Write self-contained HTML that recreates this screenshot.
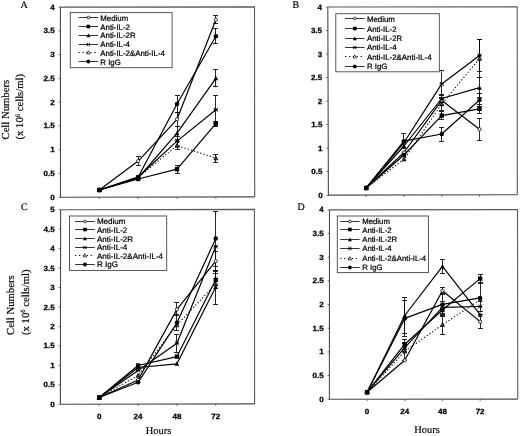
<!DOCTYPE html>
<html><head><meta charset="utf-8"><title>Figure</title>
<style>
html,body{margin:0;padding:0;background:#fff;}
svg{display:block}
text{text-rendering:geometricPrecision}
.tk{font-family:"Liberation Sans",Arial,sans-serif;font-weight:bold;font-size:7.5px;fill:#000;stroke:#000;stroke-width:0.25px}
.lg{font-family:"Liberation Sans",Arial,sans-serif;fill:#000;stroke:#000;stroke-width:0.22px}
.ser{font-family:"Liberation Serif","Times New Roman",serif;fill:#000;stroke:#000;stroke-width:0.18px}
</style></head>
<body>
<svg width="520" height="436" viewBox="0 0 520 436">
<rect width="520" height="436" fill="#fff"/>
<path d="M60.4 7.1L254.5 6.9L254.7 196.9" fill="none" stroke="#5a5a5a" stroke-width="1.1"/>
<path d="M60.4 7.1L60.5 197.2L254.7 196.9" fill="none" stroke="#4a4a4a" stroke-width="1.1"/>
<path d="M58.7 197.2H60.5" stroke="#4a4a4a" stroke-width="0.8"/>
<text transform="translate(54.7 199.75) scale(1.07 1)" text-anchor="end" class="tk">0</text>
<path d="M58.69 173.44H60.49" stroke="#4a4a4a" stroke-width="0.8"/>
<text transform="translate(54.69 175.99) scale(1.07 1)" text-anchor="end" class="tk">0.5</text>
<path d="M58.68 149.67H60.48" stroke="#4a4a4a" stroke-width="0.8"/>
<text transform="translate(54.68 152.22) scale(1.07 1)" text-anchor="end" class="tk">1</text>
<path d="M58.66 125.91H60.46" stroke="#4a4a4a" stroke-width="0.8"/>
<text transform="translate(54.66 128.46) scale(1.07 1)" text-anchor="end" class="tk">1.5</text>
<path d="M58.65 102.15H60.45" stroke="#4a4a4a" stroke-width="0.8"/>
<text transform="translate(54.65 104.7) scale(1.07 1)" text-anchor="end" class="tk">2</text>
<path d="M58.64 78.39H60.44" stroke="#4a4a4a" stroke-width="0.8"/>
<text transform="translate(54.64 80.94) scale(1.07 1)" text-anchor="end" class="tk">2.5</text>
<path d="M58.62 54.62H60.42" stroke="#4a4a4a" stroke-width="0.8"/>
<text transform="translate(54.62 57.17) scale(1.07 1)" text-anchor="end" class="tk">3</text>
<path d="M58.61 30.86H60.41" stroke="#4a4a4a" stroke-width="0.8"/>
<text transform="translate(54.61 33.41) scale(1.07 1)" text-anchor="end" class="tk">3.5</text>
<path d="M58.6 7.1H60.4" stroke="#4a4a4a" stroke-width="0.8"/>
<text transform="translate(54.6 9.65) scale(1.07 1)" text-anchor="end" class="tk">4</text>
<path d="M99.34 197.14V199.04" stroke="#4a4a4a" stroke-width="0.8"/>
<path d="M138.18 197.08V198.98" stroke="#4a4a4a" stroke-width="0.8"/>
<path d="M177.02 197.02V198.92" stroke="#4a4a4a" stroke-width="0.8"/>
<path d="M215.86 196.96V198.86" stroke="#4a4a4a" stroke-width="0.8"/>
<path d="M99.34 190L138.18 161.1L177.02 119.3L215.86 19.7" fill="none" stroke="#000" stroke-width="1.2" stroke-linejoin="round"/>
<path d="M99.34 190L138.18 179L177.02 169.2L215.86 123.6" fill="none" stroke="#000" stroke-width="1.2" stroke-linejoin="round"/>
<path d="M99.34 190L138.18 178L177.02 133.2L215.86 78.3" fill="none" stroke="#000" stroke-width="1.2" stroke-linejoin="round"/>
<path d="M99.34 190L138.18 177L177.02 141.1L215.86 109.7" fill="none" stroke="#000" stroke-width="1.2" stroke-linejoin="round"/>
<path d="M99.34 190L138.18 177.5L177.02 145.5L215.86 158.1" fill="none" stroke="#000" stroke-width="1.1" stroke-dasharray="1.2 2.1" stroke-linejoin="round"/>
<path d="M99.34 190L138.18 177L177.02 104L215.86 36.2" fill="none" stroke="#000" stroke-width="1.2" stroke-linejoin="round"/>
<path d="M138.5 156.5V165.5M136 156.5H141M136 165.5H141" stroke="#000" stroke-width="0.85" fill="none"/>
<path d="M177.5 112.5V126.5M175 112.5H180M175 126.5H180" stroke="#000" stroke-width="0.85" fill="none"/>
<path d="M215.5 15.5V23.5M213 15.5H218M213 23.5H218" stroke="#000" stroke-width="0.85" fill="none"/>
<path d="M177.5 165.5V173.5M175 165.5H180M175 173.5H180" stroke="#000" stroke-width="0.85" fill="none"/>
<path d="M215.5 121.5V126.5M213 121.5H218M213 126.5H218" stroke="#000" stroke-width="0.85" fill="none"/>
<path d="M177.5 126.5V139.5M175 126.5H180M175 139.5H180" stroke="#000" stroke-width="0.85" fill="none"/>
<path d="M215.5 69.5V86.5M213 69.5H218M213 86.5H218" stroke="#000" stroke-width="0.85" fill="none"/>
<path d="M177.5 136.5V146.5M175 136.5H180M175 146.5H180" stroke="#000" stroke-width="0.85" fill="none"/>
<path d="M215.5 95.5V123.5M213 95.5H218M213 123.5H218" stroke="#000" stroke-width="0.85" fill="none"/>
<path d="M177.5 141.5V149.5M175 141.5H180M175 149.5H180" stroke="#000" stroke-width="0.85" fill="none"/>
<path d="M215.5 154.5V162.5M213 154.5H218M213 162.5H218" stroke="#000" stroke-width="0.85" fill="none"/>
<path d="M177.5 95.5V112.5M175 95.5H180M175 112.5H180" stroke="#000" stroke-width="0.85" fill="none"/>
<path d="M215.5 28.5V43.5M213 28.5H218M213 43.5H218" stroke="#000" stroke-width="0.85" fill="none"/>
<circle cx="99.34" cy="190" r="1.62" fill="#fff" stroke="#000" stroke-width="0.8"/>
<circle cx="138.18" cy="161.1" r="1.62" fill="#fff" stroke="#000" stroke-width="0.8"/>
<circle cx="177.02" cy="119.3" r="1.62" fill="#fff" stroke="#000" stroke-width="0.8"/>
<circle cx="215.86" cy="19.7" r="1.62" fill="#fff" stroke="#000" stroke-width="0.8"/>
<rect x="97.18" y="187.84" width="4.32" height="4.32" fill="#000"/>
<rect x="136.02" y="176.84" width="4.32" height="4.32" fill="#000"/>
<rect x="174.86" y="167.04" width="4.32" height="4.32" fill="#000"/>
<rect x="213.7" y="121.44" width="4.32" height="4.32" fill="#000"/>
<path d="M99.34 187.52L101.72 192.05L96.96 192.05Z" fill="#000"/>
<path d="M138.18 175.52L140.56 180.05L135.8 180.05Z" fill="#000"/>
<path d="M177.02 130.72L179.4 135.25L174.64 135.25Z" fill="#000"/>
<path d="M215.86 75.82L218.24 80.35L213.48 80.35Z" fill="#000"/>
<path d="M97.4 188.06L101.28 191.94M97.4 191.94L101.28 188.06M97.2 190L101.48 190" stroke="#000" stroke-width="1" fill="none"/>
<path d="M136.24 175.06L140.12 178.94M136.24 178.94L140.12 175.06M136.04 177L140.32 177" stroke="#000" stroke-width="1" fill="none"/>
<path d="M175.08 139.16L178.96 143.04M175.08 143.04L178.96 139.16M174.88 141.1L179.16 141.1" stroke="#000" stroke-width="1" fill="none"/>
<path d="M213.92 107.76L217.8 111.64M213.92 111.64L217.8 107.76M213.72 109.7L218 109.7" stroke="#000" stroke-width="1" fill="none"/>
<path d="M99.34 187.84L101.39 191.73L97.29 191.73Z" fill="#3a3a3a" stroke="#000" stroke-width="0.7"/>
<path d="M138.18 175.34L140.23 179.23L136.13 179.23Z" fill="#3a3a3a" stroke="#000" stroke-width="0.7"/>
<path d="M177.02 143.34L179.07 147.23L174.97 147.23Z" fill="#3a3a3a" stroke="#000" stroke-width="0.7"/>
<path d="M215.86 155.94L217.91 159.83L213.81 159.83Z" fill="#3a3a3a" stroke="#000" stroke-width="0.7"/>
<circle cx="99.34" cy="190" r="2.27" fill="#000"/>
<circle cx="138.18" cy="177" r="2.27" fill="#000"/>
<circle cx="177.02" cy="104" r="2.27" fill="#000"/>
<circle cx="215.86" cy="36.2" r="2.27" fill="#000"/>
<rect x="70.3" y="12.6" width="101.8" height="55.1" fill="#fff" stroke="#444" stroke-width="0.9"/>
<path d="M78.6 17.5H98.1" stroke="#111" stroke-width="0.85"/>
<circle cx="88.35" cy="17.5" r="1.35" fill="#fff" stroke="#000" stroke-width="0.8"/>
<text x="100.3" y="20.73" class="lg" font-size="7.85">Medium</text>
<path d="M78.6 26.5H98.1" stroke="#111" stroke-width="0.85"/>
<rect x="86.55" y="24.7" width="3.6" height="3.6" fill="#000"/>
<text x="100.3" y="29.53" class="lg" font-size="7.85">Anti-IL-2</text>
<path d="M78.6 35.5H98.1" stroke="#111" stroke-width="0.85"/>
<path d="M88.35 33.43L90.33 37.21L86.37 37.21Z" fill="#000"/>
<text x="100.3" y="38.33" class="lg" font-size="7.85">Anti-IL-2R</text>
<path d="M78.6 44.5H98.1" stroke="#111" stroke-width="0.85"/>
<path d="M86.73 42.88L89.97 46.12M86.73 46.12L89.97 42.88M86.53 44.5L90.17 44.5" stroke="#000" stroke-width="1" fill="none"/>
<text x="100.3" y="46.83" class="lg" font-size="7.85">Anti-IL-4</text>
<path d="M78.6 52.5H98.1" stroke="#111" stroke-width="1.0" stroke-dasharray="1.3 2.6"/>
<path d="M88.35 50.7L90.06 53.94L86.64 53.94Z" fill="#fff" stroke="#000" stroke-width="0.7"/>
<text x="100.3" y="55.73" class="lg" font-size="7.85">Anti-IL-2&amp;Anti-IL-4</text>
<path d="M78.6 61.5H98.1" stroke="#111" stroke-width="0.85"/>
<circle cx="88.35" cy="61.5" r="1.89" fill="#000"/>
<text x="100.3" y="64.63" class="lg" font-size="7.85">R IgG</text>
<text x="20.5" y="8.4" class="ser" font-size="10">A</text>
<text transform="translate(8.5 139.5) rotate(-90)" class="ser" font-size="10.7">Cell Numbers</text>
<text transform="translate(23.2 139.5) rotate(-90)" class="ser" font-size="10.7">(x 10<tspan font-size="6.5" dy="-3.5">6</tspan><tspan dy="3.5"> cells/ml)</tspan></text>
<path d="M327.8 7.0L517.2 6.9L517.3 194.8" fill="none" stroke="#5a5a5a" stroke-width="1.1"/>
<path d="M327.8 7.0L328.4 195.1L517.3 194.8" fill="none" stroke="#4a4a4a" stroke-width="1.1"/>
<path d="M326.6 195.1H328.4" stroke="#4a4a4a" stroke-width="0.8"/>
<text transform="translate(322.6 197.65) scale(1.07 1)" text-anchor="end" class="tk">0</text>
<path d="M326.52 171.59H328.32" stroke="#4a4a4a" stroke-width="0.8"/>
<text transform="translate(322.52 174.14) scale(1.07 1)" text-anchor="end" class="tk">0.5</text>
<path d="M326.45 148.07H328.25" stroke="#4a4a4a" stroke-width="0.8"/>
<text transform="translate(322.45 150.62) scale(1.07 1)" text-anchor="end" class="tk">1</text>
<path d="M326.38 124.56H328.18" stroke="#4a4a4a" stroke-width="0.8"/>
<text transform="translate(322.38 127.11) scale(1.07 1)" text-anchor="end" class="tk">1.5</text>
<path d="M326.3 101.05H328.1" stroke="#4a4a4a" stroke-width="0.8"/>
<text transform="translate(322.3 103.6) scale(1.07 1)" text-anchor="end" class="tk">2</text>
<path d="M326.22 77.54H328.02" stroke="#4a4a4a" stroke-width="0.8"/>
<text transform="translate(322.22 80.09) scale(1.07 1)" text-anchor="end" class="tk">2.5</text>
<path d="M326.15 54.03H327.95" stroke="#4a4a4a" stroke-width="0.8"/>
<text transform="translate(322.15 56.58) scale(1.07 1)" text-anchor="end" class="tk">3</text>
<path d="M326.07 30.51H327.88" stroke="#4a4a4a" stroke-width="0.8"/>
<text transform="translate(322.07 33.06) scale(1.07 1)" text-anchor="end" class="tk">3.5</text>
<path d="M326 7H327.8" stroke="#4a4a4a" stroke-width="0.8"/>
<text transform="translate(322 9.55) scale(1.07 1)" text-anchor="end" class="tk">4</text>
<path d="M366.18 195.04V196.94" stroke="#4a4a4a" stroke-width="0.8"/>
<path d="M403.96 194.98V196.88" stroke="#4a4a4a" stroke-width="0.8"/>
<path d="M441.74 194.92V196.82" stroke="#4a4a4a" stroke-width="0.8"/>
<path d="M479.52 194.86V196.76" stroke="#4a4a4a" stroke-width="0.8"/>
<path d="M366.18 188L403.96 152.5L441.74 100.4L479.52 129.3" fill="none" stroke="#000" stroke-width="1.2" stroke-linejoin="round"/>
<path d="M366.18 188L403.96 155L441.74 115.6L479.52 108.8" fill="none" stroke="#000" stroke-width="1.2" stroke-linejoin="round"/>
<path d="M366.18 188L403.96 146L441.74 98.5L479.52 87.7" fill="none" stroke="#000" stroke-width="1.2" stroke-linejoin="round"/>
<path d="M366.18 188L403.96 142.5L441.74 83.9L479.52 55.4" fill="none" stroke="#000" stroke-width="1.2" stroke-linejoin="round"/>
<path d="M366.18 188L403.96 159.25L441.74 104L479.52 58.6" fill="none" stroke="#000" stroke-width="1.1" stroke-dasharray="1.2 2.1" stroke-linejoin="round"/>
<path d="M366.18 188L403.96 141.2L441.74 134L479.52 100" fill="none" stroke="#000" stroke-width="1.2" stroke-linejoin="round"/>
<path d="M441.5 95.5V105.5M439 95.5H444M439 105.5H444" stroke="#000" stroke-width="0.85" fill="none"/>
<path d="M479.5 118.5V140.5M477 118.5H482M477 140.5H482" stroke="#000" stroke-width="0.85" fill="none"/>
<path d="M441.5 111.5V119.5M439 111.5H444M439 119.5H444" stroke="#000" stroke-width="0.85" fill="none"/>
<path d="M479.5 104.5V113.5M477 104.5H482M477 113.5H482" stroke="#000" stroke-width="0.85" fill="none"/>
<path d="M441.5 94.5V102.5M439 94.5H444M439 102.5H444" stroke="#000" stroke-width="0.85" fill="none"/>
<path d="M479.5 77.5V97.5M477 77.5H482M477 97.5H482" stroke="#000" stroke-width="0.85" fill="none"/>
<path d="M441.5 70.5V97.5M439 70.5H444M439 97.5H444" stroke="#000" stroke-width="0.85" fill="none"/>
<path d="M479.5 39.5V71.5M477 39.5H482M477 71.5H482" stroke="#000" stroke-width="0.85" fill="none"/>
<path d="M441.5 98.5V110.5M439 98.5H444M439 110.5H444" stroke="#000" stroke-width="0.85" fill="none"/>
<path d="M479.5 39.5V77.5M477 39.5H482M477 77.5H482" stroke="#000" stroke-width="0.85" fill="none"/>
<path d="M403.5 133.5V148.5M401 133.5H406M401 148.5H406" stroke="#000" stroke-width="0.85" fill="none"/>
<path d="M441.5 127.5V141.5M439 127.5H444M439 141.5H444" stroke="#000" stroke-width="0.85" fill="none"/>
<path d="M479.5 93.5V106.5M477 93.5H482M477 106.5H482" stroke="#000" stroke-width="0.85" fill="none"/>
<circle cx="366.18" cy="188" r="1.62" fill="#fff" stroke="#000" stroke-width="0.8"/>
<circle cx="403.96" cy="152.5" r="1.62" fill="#fff" stroke="#000" stroke-width="0.8"/>
<circle cx="441.74" cy="100.4" r="1.62" fill="#fff" stroke="#000" stroke-width="0.8"/>
<circle cx="479.52" cy="129.3" r="1.62" fill="#fff" stroke="#000" stroke-width="0.8"/>
<rect x="364.02" y="185.84" width="4.32" height="4.32" fill="#000"/>
<rect x="401.8" y="152.84" width="4.32" height="4.32" fill="#000"/>
<rect x="439.58" y="113.44" width="4.32" height="4.32" fill="#000"/>
<rect x="477.36" y="106.64" width="4.32" height="4.32" fill="#000"/>
<path d="M366.18 185.52L368.56 190.05L363.8 190.05Z" fill="#000"/>
<path d="M403.96 143.52L406.34 148.05L401.58 148.05Z" fill="#000"/>
<path d="M441.74 96.02L444.12 100.55L439.36 100.55Z" fill="#000"/>
<path d="M479.52 85.22L481.9 89.75L477.14 89.75Z" fill="#000"/>
<path d="M364.24 186.06L368.12 189.94M364.24 189.94L368.12 186.06M364.04 188L368.32 188" stroke="#000" stroke-width="1" fill="none"/>
<path d="M402.02 140.56L405.9 144.44M402.02 144.44L405.9 140.56M401.82 142.5L406.1 142.5" stroke="#000" stroke-width="1" fill="none"/>
<path d="M439.8 81.96L443.68 85.84M439.8 85.84L443.68 81.96M439.6 83.9L443.88 83.9" stroke="#000" stroke-width="1" fill="none"/>
<path d="M477.58 53.46L481.46 57.34M477.58 57.34L481.46 53.46M477.38 55.4L481.66 55.4" stroke="#000" stroke-width="1" fill="none"/>
<path d="M366.18 185.84L368.23 189.73L364.13 189.73Z" fill="#3a3a3a" stroke="#000" stroke-width="0.7"/>
<path d="M403.96 157.09L406.01 160.98L401.91 160.98Z" fill="#3a3a3a" stroke="#000" stroke-width="0.7"/>
<path d="M441.74 101.84L443.79 105.73L439.69 105.73Z" fill="#3a3a3a" stroke="#000" stroke-width="0.7"/>
<path d="M479.52 56.44L481.57 60.33L477.47 60.33Z" fill="#3a3a3a" stroke="#000" stroke-width="0.7"/>
<circle cx="366.18" cy="188" r="2.27" fill="#000"/>
<circle cx="403.96" cy="141.2" r="2.27" fill="#000"/>
<circle cx="441.74" cy="134" r="2.27" fill="#000"/>
<circle cx="479.52" cy="100" r="2.27" fill="#000"/>
<rect x="335.8" y="13.7" width="103.5" height="58.1" fill="#fff" stroke="#444" stroke-width="0.9"/>
<path d="M345 18.5H364.6" stroke="#111" stroke-width="0.85"/>
<circle cx="354.8" cy="18.5" r="1.35" fill="#fff" stroke="#000" stroke-width="0.8"/>
<text x="366.9" y="21.63" class="lg" font-size="7.86">Medium</text>
<path d="M345 28.5H364.6" stroke="#111" stroke-width="0.85"/>
<rect x="353" y="26.7" width="3.6" height="3.6" fill="#000"/>
<text x="366.9" y="31.63" class="lg" font-size="7.86">Anti-IL-2</text>
<path d="M345 38.5H364.6" stroke="#111" stroke-width="0.85"/>
<path d="M354.8 36.43L356.78 40.21L352.82 40.21Z" fill="#000"/>
<text x="366.9" y="40.93" class="lg" font-size="7.86">Anti-IL-2R</text>
<path d="M345 47.5H364.6" stroke="#111" stroke-width="0.85"/>
<path d="M353.18 45.88L356.42 49.12M353.18 49.12L356.42 45.88M352.98 47.5L356.62 47.5" stroke="#000" stroke-width="1" fill="none"/>
<text x="366.9" y="50.13" class="lg" font-size="7.86">Anti-IL-4</text>
<path d="M345 56.5H364.6" stroke="#111" stroke-width="1.0" stroke-dasharray="1.3 2.6"/>
<path d="M354.8 54.7L356.51 57.94L353.09 57.94Z" fill="#fff" stroke="#000" stroke-width="0.7"/>
<text x="366.9" y="59.73" class="lg" font-size="7.86">Anti-IL-2&amp;Anti-IL-4</text>
<path d="M345 66.5H364.6" stroke="#111" stroke-width="0.85"/>
<circle cx="354.8" cy="66.5" r="1.89" fill="#000"/>
<text x="366.9" y="69.03" class="lg" font-size="7.86">R IgG</text>
<text x="292.4" y="8.3" class="ser" font-size="10">B</text>
<path d="M60.6 209.7L254.4 209.4L254.6 403.9" fill="none" stroke="#5a5a5a" stroke-width="1.1"/>
<path d="M60.6 209.7L60.4 404.2L254.6 403.9" fill="none" stroke="#4a4a4a" stroke-width="1.1"/>
<path d="M58.6 404.2H60.4" stroke="#4a4a4a" stroke-width="0.8"/>
<text transform="translate(54.6 406.75) scale(1.07 1)" text-anchor="end" class="tk">0</text>
<path d="M58.62 384.75H60.42" stroke="#4a4a4a" stroke-width="0.8"/>
<text transform="translate(54.62 387.3) scale(1.07 1)" text-anchor="end" class="tk">0.5</text>
<path d="M58.64 365.3H60.44" stroke="#4a4a4a" stroke-width="0.8"/>
<text transform="translate(54.64 367.85) scale(1.07 1)" text-anchor="end" class="tk">1</text>
<path d="M58.66 345.85H60.46" stroke="#4a4a4a" stroke-width="0.8"/>
<text transform="translate(54.66 348.4) scale(1.07 1)" text-anchor="end" class="tk">1.5</text>
<path d="M58.68 326.4H60.48" stroke="#4a4a4a" stroke-width="0.8"/>
<text transform="translate(54.68 328.95) scale(1.07 1)" text-anchor="end" class="tk">2</text>
<path d="M58.7 306.95H60.5" stroke="#4a4a4a" stroke-width="0.8"/>
<text transform="translate(54.7 309.5) scale(1.07 1)" text-anchor="end" class="tk">2.5</text>
<path d="M58.72 287.5H60.52" stroke="#4a4a4a" stroke-width="0.8"/>
<text transform="translate(54.72 290.05) scale(1.07 1)" text-anchor="end" class="tk">3</text>
<path d="M58.74 268.05H60.54" stroke="#4a4a4a" stroke-width="0.8"/>
<text transform="translate(54.74 270.6) scale(1.07 1)" text-anchor="end" class="tk">3.5</text>
<path d="M58.76 248.6H60.56" stroke="#4a4a4a" stroke-width="0.8"/>
<text transform="translate(54.76 251.15) scale(1.07 1)" text-anchor="end" class="tk">4</text>
<path d="M58.78 229.15H60.58" stroke="#4a4a4a" stroke-width="0.8"/>
<text transform="translate(54.78 231.7) scale(1.07 1)" text-anchor="end" class="tk">4.5</text>
<path d="M58.8 209.7H60.6" stroke="#4a4a4a" stroke-width="0.8"/>
<text transform="translate(54.8 212.25) scale(1.07 1)" text-anchor="end" class="tk">5</text>
<path d="M99.24 404.14V406.04" stroke="#4a4a4a" stroke-width="0.8"/>
<path d="M138.08 404.08V405.98" stroke="#4a4a4a" stroke-width="0.8"/>
<path d="M176.92 404.02V405.92" stroke="#4a4a4a" stroke-width="0.8"/>
<path d="M215.76 403.96V405.86" stroke="#4a4a4a" stroke-width="0.8"/>
<text transform="translate(99.24 418.65000000000003) scale(1.07 1)" text-anchor="middle" class="tk">0</text>
<text transform="translate(138.08 418.65000000000003) scale(1.07 1)" text-anchor="middle" class="tk">24</text>
<text transform="translate(176.92 418.65000000000003) scale(1.07 1)" text-anchor="middle" class="tk">48</text>
<text transform="translate(215.76 418.65000000000003) scale(1.07 1)" text-anchor="middle" class="tk">72</text>
<text x="158.5" y="434" text-anchor="middle" class="ser" font-size="10.4">Hours</text>
<path d="M99.24 397.5L138.08 380L176.92 309.4L215.76 261.2" fill="none" stroke="#000" stroke-width="1.2" stroke-linejoin="round"/>
<path d="M99.24 397.5L138.08 365.5L176.92 356.6L215.76 279.8" fill="none" stroke="#000" stroke-width="1.2" stroke-linejoin="round"/>
<path d="M99.24 397.5L138.08 367.5L176.92 363.8L215.76 287" fill="none" stroke="#000" stroke-width="1.2" stroke-linejoin="round"/>
<path d="M99.24 397.5L138.08 370.5L176.92 343.3L215.76 246.5" fill="none" stroke="#000" stroke-width="1.2" stroke-linejoin="round"/>
<path d="M99.24 397.5L138.08 375.5L176.92 325L215.76 283.9" fill="none" stroke="#000" stroke-width="1.1" stroke-dasharray="1.2 2.1" stroke-linejoin="round"/>
<path d="M99.24 397.5L138.08 382.3L176.92 322.8L215.76 238.6" fill="none" stroke="#000" stroke-width="1.2" stroke-linejoin="round"/>
<path d="M176.5 302.5V315.5M174 302.5H179M174 315.5H179" stroke="#000" stroke-width="0.85" fill="none"/>
<path d="M215.5 251.5V271.5M213 251.5H218M213 271.5H218" stroke="#000" stroke-width="0.85" fill="none"/>
<path d="M215.5 273.5V285.5M213 273.5H218M213 285.5H218" stroke="#000" stroke-width="0.85" fill="none"/>
<path d="M215.5 270.5V304.5M213 270.5H218M213 304.5H218" stroke="#000" stroke-width="0.85" fill="none"/>
<path d="M176.5 334.5V352.5M174 334.5H179M174 352.5H179" stroke="#000" stroke-width="0.85" fill="none"/>
<path d="M176.5 314.5V330.5M174 314.5H179M174 330.5H179" stroke="#000" stroke-width="0.85" fill="none"/>
<path d="M215.5 211.5V266.5M213 211.5H218M213 266.5H218" stroke="#000" stroke-width="0.85" fill="none"/>
<circle cx="99.24" cy="397.5" r="1.62" fill="#fff" stroke="#000" stroke-width="0.8"/>
<circle cx="138.08" cy="380" r="1.62" fill="#fff" stroke="#000" stroke-width="0.8"/>
<circle cx="176.92" cy="309.4" r="1.62" fill="#fff" stroke="#000" stroke-width="0.8"/>
<circle cx="215.76" cy="261.2" r="1.62" fill="#fff" stroke="#000" stroke-width="0.8"/>
<rect x="97.08" y="395.34" width="4.32" height="4.32" fill="#000"/>
<rect x="135.92" y="363.34" width="4.32" height="4.32" fill="#000"/>
<rect x="174.76" y="354.44" width="4.32" height="4.32" fill="#000"/>
<rect x="213.6" y="277.64" width="4.32" height="4.32" fill="#000"/>
<path d="M99.24 395.02L101.62 399.55L96.86 399.55Z" fill="#000"/>
<path d="M138.08 365.02L140.46 369.55L135.7 369.55Z" fill="#000"/>
<path d="M176.92 361.32L179.3 365.85L174.54 365.85Z" fill="#000"/>
<path d="M215.76 284.52L218.14 289.05L213.38 289.05Z" fill="#000"/>
<path d="M97.3 395.56L101.18 399.44M97.3 399.44L101.18 395.56M97.1 397.5L101.38 397.5" stroke="#000" stroke-width="1" fill="none"/>
<path d="M136.14 368.56L140.02 372.44M136.14 372.44L140.02 368.56M135.94 370.5L140.22 370.5" stroke="#000" stroke-width="1" fill="none"/>
<path d="M174.98 341.36L178.86 345.24M174.98 345.24L178.86 341.36M174.78 343.3L179.06 343.3" stroke="#000" stroke-width="1" fill="none"/>
<path d="M213.82 244.56L217.7 248.44M213.82 248.44L217.7 244.56M213.62 246.5L217.9 246.5" stroke="#000" stroke-width="1" fill="none"/>
<path d="M99.24 395.34L101.29 399.23L97.19 399.23Z" fill="#3a3a3a" stroke="#000" stroke-width="0.7"/>
<path d="M138.08 373.34L140.13 377.23L136.03 377.23Z" fill="#3a3a3a" stroke="#000" stroke-width="0.7"/>
<path d="M176.92 322.84L178.97 326.73L174.87 326.73Z" fill="#3a3a3a" stroke="#000" stroke-width="0.7"/>
<path d="M215.76 281.74L217.81 285.63L213.71 285.63Z" fill="#3a3a3a" stroke="#000" stroke-width="0.7"/>
<circle cx="99.24" cy="397.5" r="2.27" fill="#000"/>
<circle cx="138.08" cy="382.3" r="2.27" fill="#000"/>
<circle cx="176.92" cy="322.8" r="2.27" fill="#000"/>
<circle cx="215.76" cy="238.6" r="2.27" fill="#000"/>
<rect x="69.5" y="216" width="97.2" height="54.4" fill="#fff" stroke="#444" stroke-width="0.9"/>
<path d="M75.1 221.5H94.8" stroke="#111" stroke-width="0.85"/>
<circle cx="84.95" cy="221.5" r="1.35" fill="#fff" stroke="#000" stroke-width="0.8"/>
<text x="96.9" y="224" class="lg" font-size="8.05">Medium</text>
<path d="M75.1 229.5H94.8" stroke="#111" stroke-width="0.85"/>
<rect x="83.15" y="227.7" width="3.6" height="3.6" fill="#000"/>
<text x="96.9" y="232.7" class="lg" font-size="8.05">Anti-IL-2</text>
<path d="M75.1 238.5H94.8" stroke="#111" stroke-width="0.85"/>
<path d="M84.95 236.43L86.93 240.21L82.97 240.21Z" fill="#000"/>
<text x="96.9" y="241.5" class="lg" font-size="8.05">Anti-IL-2R</text>
<path d="M75.1 247.5H94.8" stroke="#111" stroke-width="0.85"/>
<path d="M83.33 245.88L86.57 249.12M83.33 249.12L86.57 245.88M83.13 247.5L86.77 247.5" stroke="#000" stroke-width="1" fill="none"/>
<text x="96.9" y="250" class="lg" font-size="8.05">Anti-IL-4</text>
<path d="M75.1 255.5H94.8" stroke="#111" stroke-width="1.0" stroke-dasharray="1.3 2.6"/>
<path d="M84.95 253.7L86.66 256.94L83.24 256.94Z" fill="#fff" stroke="#000" stroke-width="0.7"/>
<text x="96.9" y="258.6" class="lg" font-size="8.05">Anti-IL-2&amp;Anti-IL-4</text>
<path d="M75.1 264.5H94.8" stroke="#111" stroke-width="0.85"/>
<circle cx="84.95" cy="264.5" r="1.89" fill="#000"/>
<text x="96.9" y="267.4" class="lg" font-size="8.05">R IgG</text>
<text x="20.9" y="210.2" class="ser" font-size="10">C</text>
<text transform="translate(13.8 335) rotate(-90)" class="ser" font-size="10.7">Cell Numbers</text>
<text transform="translate(28.5 335) rotate(-90)" class="ser" font-size="10.7">(x 10<tspan font-size="6.5" dy="-3.5">6</tspan><tspan dy="3.5"> cells/ml)</tspan></text>
<path d="M329.5 209.9L517.5 209.6L517.8 399.1" fill="none" stroke="#5a5a5a" stroke-width="1.1"/>
<path d="M329.5 209.9L329.4 399.2L517.8 399.1" fill="none" stroke="#4a4a4a" stroke-width="1.1"/>
<path d="M327.6 399.2H329.4" stroke="#4a4a4a" stroke-width="0.8"/>
<text transform="translate(323.6 401.75) scale(1.07 1)" text-anchor="end" class="tk">0</text>
<path d="M327.61 375.54H329.41" stroke="#4a4a4a" stroke-width="0.8"/>
<text transform="translate(323.61 378.09) scale(1.07 1)" text-anchor="end" class="tk">0.5</text>
<path d="M327.62 351.88H329.42" stroke="#4a4a4a" stroke-width="0.8"/>
<text transform="translate(323.62 354.43) scale(1.07 1)" text-anchor="end" class="tk">1</text>
<path d="M327.64 328.21H329.44" stroke="#4a4a4a" stroke-width="0.8"/>
<text transform="translate(323.64 330.76) scale(1.07 1)" text-anchor="end" class="tk">1.5</text>
<path d="M327.65 304.55H329.45" stroke="#4a4a4a" stroke-width="0.8"/>
<text transform="translate(323.65 307.1) scale(1.07 1)" text-anchor="end" class="tk">2</text>
<path d="M327.66 280.89H329.46" stroke="#4a4a4a" stroke-width="0.8"/>
<text transform="translate(323.66 283.44) scale(1.07 1)" text-anchor="end" class="tk">2.5</text>
<path d="M327.68 257.23H329.48" stroke="#4a4a4a" stroke-width="0.8"/>
<text transform="translate(323.68 259.78) scale(1.07 1)" text-anchor="end" class="tk">3</text>
<path d="M327.69 233.56H329.49" stroke="#4a4a4a" stroke-width="0.8"/>
<text transform="translate(323.69 236.11) scale(1.07 1)" text-anchor="end" class="tk">3.5</text>
<path d="M327.7 209.9H329.5" stroke="#4a4a4a" stroke-width="0.8"/>
<text transform="translate(323.7 212.45) scale(1.07 1)" text-anchor="end" class="tk">4</text>
<path d="M367.08 399.18V401.08" stroke="#4a4a4a" stroke-width="0.8"/>
<path d="M404.76 399.16V401.06" stroke="#4a4a4a" stroke-width="0.8"/>
<path d="M442.44 399.14V401.04" stroke="#4a4a4a" stroke-width="0.8"/>
<path d="M480.12 399.12V401.02" stroke="#4a4a4a" stroke-width="0.8"/>
<text transform="translate(367.08 413.65000000000003) scale(1.07 1)" text-anchor="middle" class="tk">0</text>
<text transform="translate(404.76 413.65000000000003) scale(1.07 1)" text-anchor="middle" class="tk">24</text>
<text transform="translate(442.44 413.65000000000003) scale(1.07 1)" text-anchor="middle" class="tk">48</text>
<text transform="translate(480.12 413.65000000000003) scale(1.07 1)" text-anchor="middle" class="tk">72</text>
<text x="427" y="433.2" text-anchor="middle" class="ser" font-size="10.4">Hours</text>
<path d="M367.08 392.2L404.76 360.3L442.44 290.7L480.12 321.6" fill="none" stroke="#000" stroke-width="1.2" stroke-linejoin="round"/>
<path d="M367.08 392.2L404.76 344.2L442.44 310L480.12 278.6" fill="none" stroke="#000" stroke-width="1.2" stroke-linejoin="round"/>
<path d="M367.08 392.2L404.76 315.5L442.44 266.4L480.12 314.7" fill="none" stroke="#000" stroke-width="1.2" stroke-linejoin="round"/>
<path d="M367.08 392.2L404.76 347.7L442.44 307.3L480.12 306.5" fill="none" stroke="#000" stroke-width="1.2" stroke-linejoin="round"/>
<path d="M367.08 392.2L404.76 351.3L442.44 324.8L480.12 299.8" fill="none" stroke="#000" stroke-width="1.1" stroke-dasharray="1.2 2.1" stroke-linejoin="round"/>
<path d="M367.08 392.2L404.76 318.4L442.44 304.4L480.12 297.9" fill="none" stroke="#000" stroke-width="1.2" stroke-linejoin="round"/>
<path d="M442.5 287.5V293.5M440 287.5H445M440 293.5H445" stroke="#000" stroke-width="0.85" fill="none"/>
<path d="M480.5 314.5V328.5M478 314.5H483M478 328.5H483" stroke="#000" stroke-width="0.85" fill="none"/>
<path d="M404.5 339.5V349.5M402 339.5H407M402 349.5H407" stroke="#000" stroke-width="0.85" fill="none"/>
<path d="M442.5 304.5V316.5M440 304.5H445M440 316.5H445" stroke="#000" stroke-width="0.85" fill="none"/>
<path d="M480.5 274.5V282.5M478 274.5H483M478 282.5H483" stroke="#000" stroke-width="0.85" fill="none"/>
<path d="M404.5 297.5V333.5M402 297.5H407M402 333.5H407" stroke="#000" stroke-width="0.85" fill="none"/>
<path d="M442.5 259.5V273.5M440 259.5H445M440 273.5H445" stroke="#000" stroke-width="0.85" fill="none"/>
<path d="M404.5 343.5V351.5M402 343.5H407M402 351.5H407" stroke="#000" stroke-width="0.85" fill="none"/>
<path d="M442.5 301.5V313.5M440 301.5H445M440 313.5H445" stroke="#000" stroke-width="0.85" fill="none"/>
<path d="M404.5 342.5V360.5M402 342.5H407M402 360.5H407" stroke="#000" stroke-width="0.85" fill="none"/>
<path d="M442.5 315.5V334.5M440 315.5H445M440 334.5H445" stroke="#000" stroke-width="0.85" fill="none"/>
<path d="M404.5 300.5V336.5M402 300.5H407M402 336.5H407" stroke="#000" stroke-width="0.85" fill="none"/>
<path d="M442.5 294.5V314.5M440 294.5H445M440 314.5H445" stroke="#000" stroke-width="0.85" fill="none"/>
<path d="M480.5 283.5V311.5M478 283.5H483M478 311.5H483" stroke="#000" stroke-width="0.85" fill="none"/>
<circle cx="367.08" cy="392.2" r="1.62" fill="#fff" stroke="#000" stroke-width="0.8"/>
<circle cx="404.76" cy="360.3" r="1.62" fill="#fff" stroke="#000" stroke-width="0.8"/>
<circle cx="442.44" cy="290.7" r="1.62" fill="#fff" stroke="#000" stroke-width="0.8"/>
<circle cx="480.12" cy="321.6" r="1.62" fill="#fff" stroke="#000" stroke-width="0.8"/>
<rect x="364.92" y="390.04" width="4.32" height="4.32" fill="#000"/>
<rect x="402.6" y="342.04" width="4.32" height="4.32" fill="#000"/>
<rect x="440.28" y="307.84" width="4.32" height="4.32" fill="#000"/>
<rect x="477.96" y="276.44" width="4.32" height="4.32" fill="#000"/>
<path d="M367.08 389.72L369.46 394.25L364.7 394.25Z" fill="#000"/>
<path d="M404.76 313.02L407.14 317.55L402.38 317.55Z" fill="#000"/>
<path d="M442.44 263.92L444.82 268.45L440.06 268.45Z" fill="#000"/>
<path d="M480.12 312.22L482.5 316.75L477.74 316.75Z" fill="#000"/>
<path d="M365.14 390.26L369.02 394.14M365.14 394.14L369.02 390.26M364.94 392.2L369.22 392.2" stroke="#000" stroke-width="1" fill="none"/>
<path d="M402.82 345.76L406.7 349.64M402.82 349.64L406.7 345.76M402.62 347.7L406.9 347.7" stroke="#000" stroke-width="1" fill="none"/>
<path d="M440.5 305.36L444.38 309.24M440.5 309.24L444.38 305.36M440.3 307.3L444.58 307.3" stroke="#000" stroke-width="1" fill="none"/>
<path d="M478.18 304.56L482.06 308.44M478.18 308.44L482.06 304.56M477.98 306.5L482.26 306.5" stroke="#000" stroke-width="1" fill="none"/>
<path d="M367.08 390.04L369.13 393.93L365.03 393.93Z" fill="#3a3a3a" stroke="#000" stroke-width="0.7"/>
<path d="M404.76 349.14L406.81 353.03L402.71 353.03Z" fill="#3a3a3a" stroke="#000" stroke-width="0.7"/>
<path d="M442.44 322.64L444.49 326.53L440.39 326.53Z" fill="#3a3a3a" stroke="#000" stroke-width="0.7"/>
<path d="M480.12 297.64L482.17 301.53L478.07 301.53Z" fill="#3a3a3a" stroke="#000" stroke-width="0.7"/>
<circle cx="367.08" cy="392.2" r="2.27" fill="#000"/>
<circle cx="404.76" cy="318.4" r="2.27" fill="#000"/>
<circle cx="442.44" cy="304.4" r="2.27" fill="#000"/>
<circle cx="480.12" cy="297.9" r="2.27" fill="#000"/>
<rect x="337.3" y="216" width="91.1" height="56.6" fill="#fff" stroke="#444" stroke-width="0.9"/>
<path d="M340.2 221.5H359.6" stroke="#111" stroke-width="0.85"/>
<circle cx="349.9" cy="221.5" r="1.35" fill="#fff" stroke="#000" stroke-width="0.8"/>
<text x="362.2" y="223.9" class="lg" font-size="7.79">Medium</text>
<path d="M340.2 229.5H359.6" stroke="#111" stroke-width="0.85"/>
<rect x="348.1" y="227.7" width="3.6" height="3.6" fill="#000"/>
<text x="362.2" y="232.7" class="lg" font-size="7.79">Anti-IL-2</text>
<path d="M340.2 239.5H359.6" stroke="#111" stroke-width="0.85"/>
<path d="M349.9 237.43L351.88 241.21L347.92 241.21Z" fill="#000"/>
<text x="362.2" y="242.3" class="lg" font-size="7.79">Anti-IL-2R</text>
<path d="M340.2 248.5H359.6" stroke="#111" stroke-width="0.85"/>
<path d="M348.28 246.88L351.52 250.12M348.28 250.12L351.52 246.88M348.08 248.5L351.72 248.5" stroke="#000" stroke-width="1" fill="none"/>
<text x="362.2" y="251.2" class="lg" font-size="7.79">Anti-IL-4</text>
<path d="M340.2 258.5H359.6" stroke="#111" stroke-width="1.0" stroke-dasharray="1.3 2.6"/>
<path d="M349.9 256.7L351.61 259.94L348.19 259.94Z" fill="#fff" stroke="#000" stroke-width="0.7"/>
<text x="362.2" y="261" class="lg" font-size="7.79">Anti-IL-2&amp;Anti-IL-4</text>
<path d="M340.2 267.5H359.6" stroke="#111" stroke-width="0.85"/>
<circle cx="349.9" cy="267.5" r="1.89" fill="#000"/>
<text x="362.2" y="270" class="lg" font-size="7.79">R IgG</text>
<text x="297.5" y="209.9" class="ser" font-size="10">D</text>
</svg>
</body></html>
